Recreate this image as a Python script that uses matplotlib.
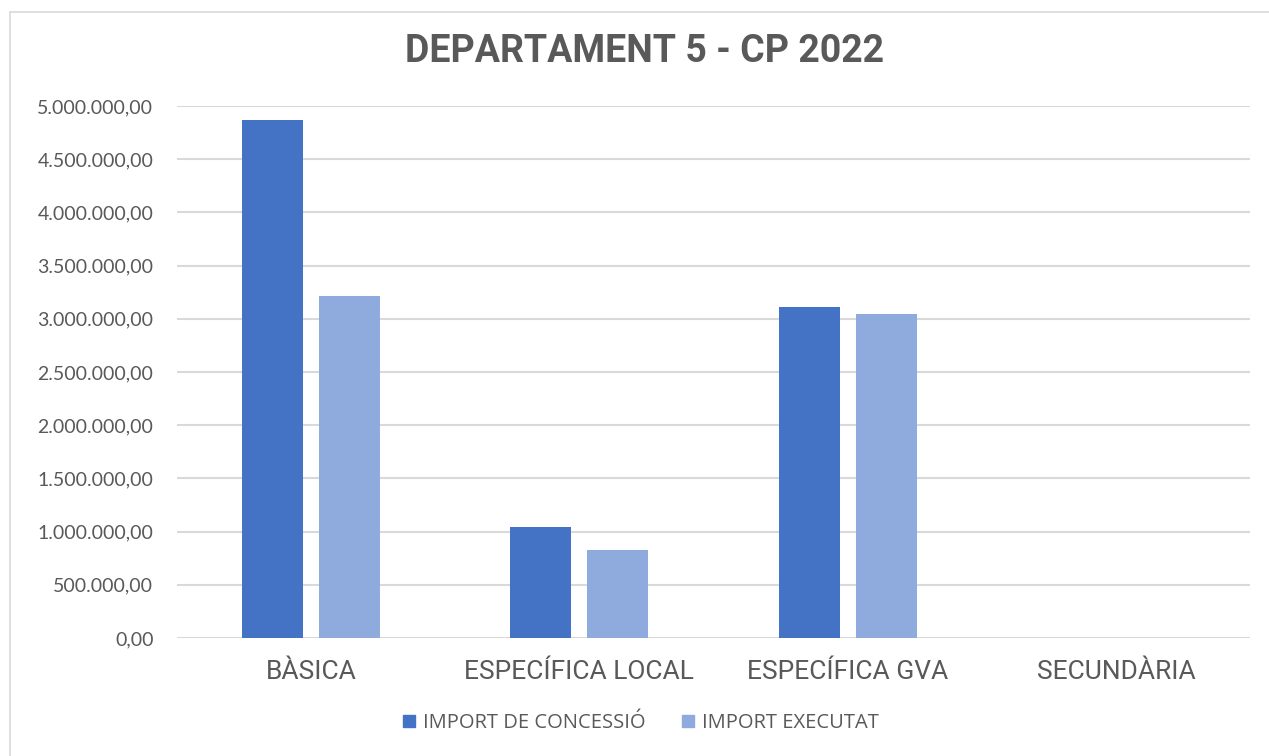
import numpy as np
import matplotlib.pyplot as plt
from matplotlib.lines import Line2D
from matplotlib.patches import Rectangle
from matplotlib.ticker import FuncFormatter

# Data
categories = ['BÀSICA', 'ESPECÍFICA LOCAL', 'ESPECÍFICA GVA', 'SECUNDÀRIA']
concessio = [4870000, 1045000, 3112000, 0]
executat = [3215000, 830000, 3048000, 0]
series_names = ['IMPORT DE CONCESSIÓ', 'IMPORT EXECUTAT']
colors = ['#4472C4', '#8FAADC']

fig = plt.figure(figsize=(12.69, 7.56), dpi=100)
fig.patches.append(Rectangle((10 / 1269, -0.01), 1.02, 1 - 12 / 756 + 0.01,
                             transform=fig.transFigure, fill=False,
                             edgecolor='#d9d9d9', linewidth=1.2))

ax = fig.add_axes([177 / 1269, 1 - 638 / 756, (1250 - 177) / 1269, (638 - 106) / 756])

x = np.arange(len(categories))
w = 0.227
off = 0.1435
ax.bar(x - off, concessio, w, color=colors[0], zorder=3)
ax.bar(x + off, executat, w, color=colors[1], zorder=3)

ax.set_xlim(-0.5, len(categories) - 0.5)
ax.set_ylim(0, 5000000)
ax.set_yticks(np.arange(0, 5000001, 500000))

def fmt(v, pos):
    s = f'{v:,.2f}'
    return s.replace(',', 'X').replace('.', ',').replace('X', '.')

ax.yaxis.set_major_formatter(FuncFormatter(fmt))
ax.grid(axis='y', color='#d9d9d9', linewidth=1.5, zorder=0)
for s in ax.spines.values():
    s.set_visible(False)
ax.tick_params(axis='both', length=0)
ax.tick_params(axis='y', pad=17)
ax.tick_params(axis='x', pad=16)

ax.set_xticks(x)
ax.set_xticklabels(categories, fontfamily='Roboto', fontsize=19, color='#595959')
for lab in ax.get_yticklabels():
    lab.set_fontfamily('Lato')
    lab.set_fontsize(14)
    lab.set_color('#595959')

fig.text(0.508, 1 - 52 / 756, 'DEPARTAMENT 5 - CP 2022', ha='center', va='center',
         fontfamily='Roboto', fontweight='bold', fontsize=27, color='#595959')

handles = [Line2D([], [], marker='s', linestyle='none', markersize=9,
                  markerfacecolor=c, markeredgecolor=c) for c in colors]
fig.legend(handles, series_names, loc='center', bbox_to_anchor=(0.504, 1 - 723 / 756),
           ncol=2, frameon=False, handlelength=0.8, handletextpad=0.3,
           columnspacing=1.7, prop={'family': 'Open Sans', 'size': 14.5},
           labelcolor='#595959')

plt.savefig('out.png', dpi=100)
